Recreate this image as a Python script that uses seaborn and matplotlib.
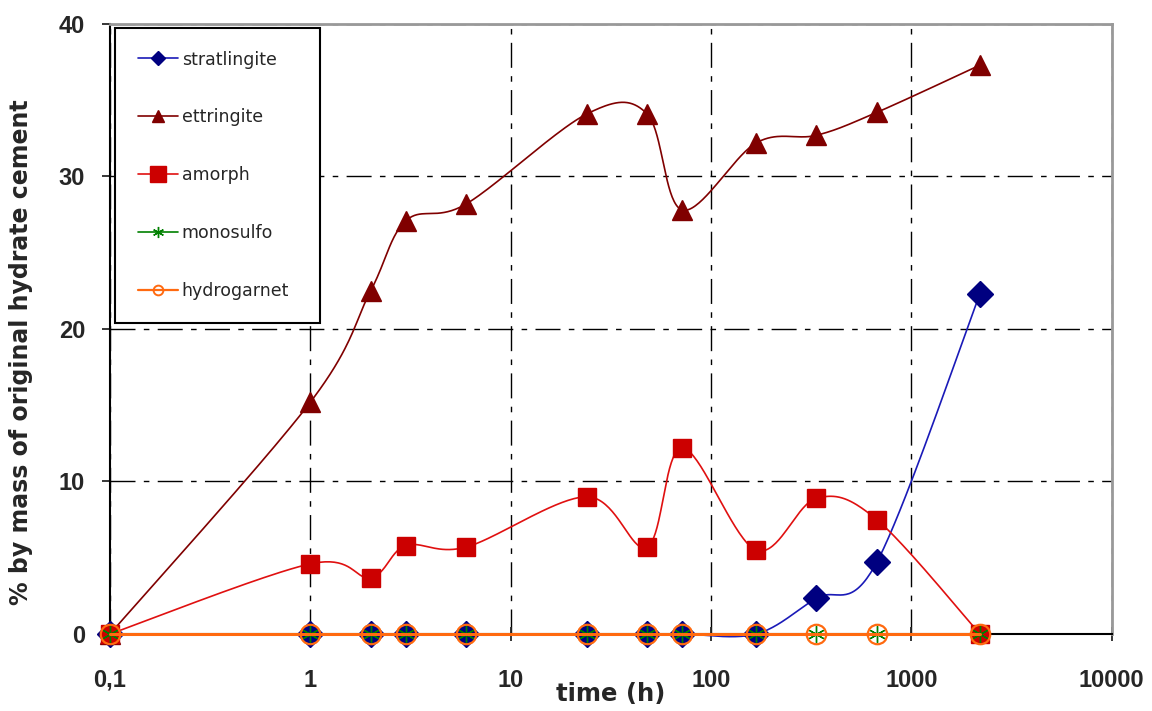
import numpy as np
import matplotlib
matplotlib.use("Agg")
import matplotlib.pyplot as plt
import seaborn as sns
from matplotlib.lines import Line2D

# Data (time in hours, % by mass)
time_h = [0.1, 1, 2, 3, 6, 24, 48, 72, 168, 336, 672, 2200]

stratlingite = [0, 0, 0, 0, 0, 0, 0, 0, 0, 2.35, 4.7, 22.3]
ettringite = [0, 15.2, 22.5, 27.1, 28.2, 34.1, 34.1, 27.8, 32.2, 32.7, 34.2, 37.3]
amorph = [0, 4.6, 3.7, 5.8, 5.7, 9.0, 5.7, 12.2, 5.5, 8.9, 7.5, 0]
monosulfo = [0, 0, 0, 0, 0, 0, 0, 0, 0, 0, 0, 0]
hydrogarnet = [0, 0, 0, 0, 0, 0, 0, 0, 0, 0, 0, 0]

series_names = ["stratlingite", "ettringite", "amorph", "monosulfo", "hydrogarnet"]
x_tick_vals = [0.1, 1, 10, 100, 1000, 10000]
x_tick_labels = ["0,1", "1", "10", "100", "1000", "10000"]
y_tick_vals = [0, 10, 20, 30, 40]

# Styles
styles = {
    "stratlingite": dict(color="#1a1ab8", mcolor="#000080", marker="D", ms=13, lms=7, lw=1.2),
    "ettringite": dict(color="#800000", mcolor="#800000", marker="^", ms=14, lms=8, lw=1.2),
    "amorph": dict(color="#e01010", mcolor="#cc0000", marker="s", ms=13, lms=11, lw=1.2),
    "monosulfo": dict(color="#008000", mcolor="#008000", marker=(6, 2, 0), ms=12, lms=8, lw=1.2),
    "hydrogarnet": dict(color="#ff6a10", mcolor="#ff6a10", marker="o", ms=14, lms=7, lw=2.2),
}


def excel_smooth(x, y, n=40):
    # Excel-style smoothed line: cubic Bezier through points in (log x, y) space
    pts = np.column_stack([np.log10(x), y]).astype(float)
    out = []
    for i in range(len(pts) - 1):
        p0 = pts[i - 1] if i > 0 else pts[i]
        p1, p2 = pts[i], pts[i + 1]
        p3 = pts[i + 2] if i + 2 < len(pts) else pts[i + 1]
        c1 = p1 + (p2 - p0) / 6
        c2 = p2 - (p3 - p1) / 6
        t = np.linspace(0, 1, n)[:, None]
        seg = ((1 - t) ** 3) * p1 + 3 * ((1 - t) ** 2) * t * c1 + 3 * (1 - t) * t ** 2 * c2 + t ** 3 * p2
        out.append(seg if i == 0 else seg[1:])
    out = np.vstack(out)
    return 10 ** out[:, 0], out[:, 1]


sns.set_style("white")
plt.rcParams["font.family"] = ["Liberation Sans", "DejaVu Sans"]

fig = plt.figure(figsize=(11.52, 7.11), dpi=100)
ax = fig.add_axes([0.0955, 0.1083, 0.8695, 0.858])

values = dict(zip(series_names, [stratlingite, ettringite, amorph, monosulfo, hydrogarnet]))

handles = []
for k, name in enumerate(series_names):
    st = styles[name]
    sx, sy = excel_smooth(time_h, values[name])
    n_before = len(ax.lines)
    sns.lineplot(x=sx, y=sy, sort=False, estimator=None, color=st["color"],
                 lw=st["lw"], ax=ax, zorder=3 + k)
    for ln in ax.lines[n_before:]:
        ln.set_clip_on(False)
    filled = name != "hydrogarnet"
    ax.plot(time_h, values[name], ls="none", marker=st["marker"], ms=st["ms"],
            mfc=st["mcolor"] if filled else "none", mec=st["mcolor"],
            mew=1.0 if filled else 1.6, zorder=3 + k, clip_on=False)
    handles.append(Line2D([], [], color=st["color"], lw=1.2 if filled else 1.6,
                          marker=st["marker"], ms=st["lms"],
                          mfc=st["mcolor"] if filled else "none", mec=st["mcolor"],
                          mew=1.0 if filled else 1.4, label=name))

ax.set_xscale("log")
ax.set_xlim(0.1, 10000)
ax.set_ylim(0, 40)
ax.set_xticks(x_tick_vals)
ax.set_xticklabels(x_tick_labels)
ax.xaxis.set_minor_locator(matplotlib.ticker.NullLocator())
ax.set_yticks(y_tick_vals)

ax.grid(True, color="black", lw=1.0, linestyle=(0, (18, 6, 4, 6)))
ax.set_axisbelow(True)

for side in ["left", "bottom"]:
    ax.spines[side].set_color("black")
    ax.spines[side].set_linewidth(1.5)
for side in ["top", "right"]:
    ax.spines[side].set_color("#999999")
    ax.spines[side].set_linewidth(2)

ax.tick_params(axis="x", direction="inout", length=10, width=1.3, pad=20,
               labelsize=17, bottom=True)
ax.tick_params(axis="y", direction="out", length=6, width=1.3, pad=12,
               labelsize=17, left=True)
for lab in ax.get_xticklabels() + ax.get_yticklabels():
    lab.set_fontweight("bold")

ax.set_xlabel("time (h)", fontsize=17.5, fontweight="bold", family=["DejaVu Sans"])
ax.xaxis.set_label_coords(0.4995, -0.0787)
ax.set_ylabel("% by mass of original hydrate cement", fontsize=17, fontweight="bold",
              family=["DejaVu Sans"])
ax.yaxis.set_label_coords(-0.0768, 0.462)

leg = ax.legend(handles=handles, loc="upper left", bbox_to_anchor=(0.005, 0.0, 0.2046, 0.9934),
                mode="expand", prop={"family": ["DejaVu Sans"], "size": 12.5},
                frameon=True, fancybox=False, edgecolor="black",
                framealpha=1, labelspacing=2.3, handlelength=2.3, handletextpad=0.25,
                borderpad=1.3, borderaxespad=0)
leg.get_frame().set_linewidth(1.5)
leg.set_zorder(20)

plt.savefig("out.png", dpi=100)
